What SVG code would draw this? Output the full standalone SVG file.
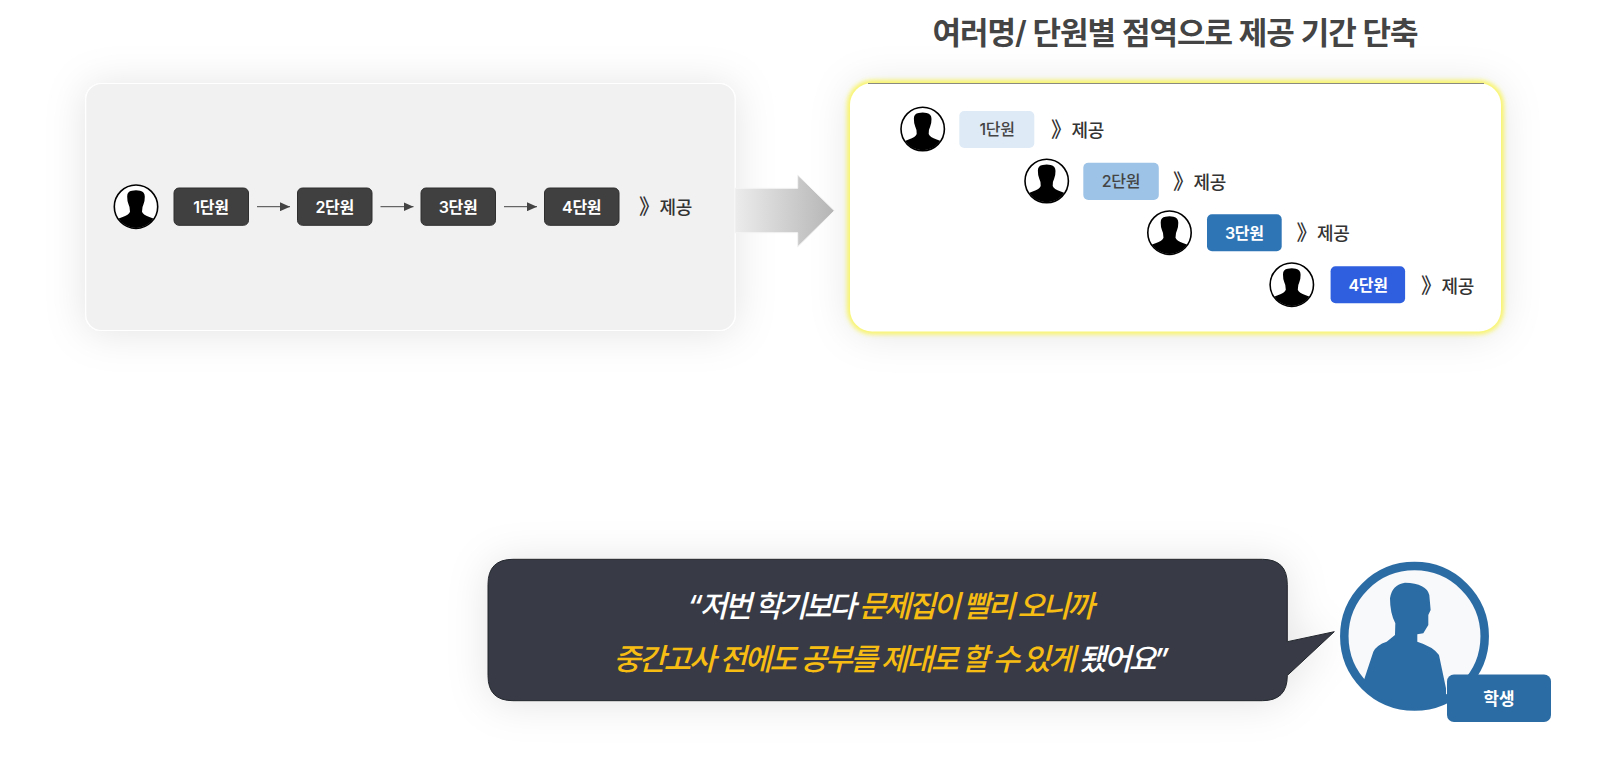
<svg xmlns="http://www.w3.org/2000/svg" width="1600" height="769" viewBox="0 0 1600 769">
<style>
text{font-family:"Inter","Noto Sans CJK KR",sans-serif}
.l{font-size:16px;font-weight:600;text-anchor:middle;letter-spacing:-.3px}
.m{font-weight:500;fill:#444}
.w{fill:#fff}
.p{font-size:18px;font-weight:500;fill:#333;letter-spacing:-.3px}
.b{font-size:21px}
.c{stroke:#444;stroke-width:1;fill:none;marker-end:url(#a)}
.q{font-size:30px;font-weight:500;font-style:italic;letter-spacing:-2.5px;text-anchor:middle}
.y{fill:#f7bd13}
.d{fill:#404040;stroke:#2f2f2f}
</style>
<defs>
<filter id="s" x="-20%" y="-50%" width="140%" height="200%"><feDropShadow dx="0" dy="2" stdDeviation="20" flood-color="#000" flood-opacity=".11"/></filter>
<filter id="g" x="-5%" y="-10%" width="110%" height="120%"><feGaussianBlur stdDeviation="2"/></filter>
<linearGradient id="ag"><stop offset="0" stop-color="#ececec"/><stop offset="1" stop-color="#b5b5b5"/></linearGradient>
<marker id="a" markerWidth="10" markerHeight="9" refX="10" refY="4.500" orient="auto" markerUnits="userSpaceOnUse"><path d="M0 0L10 4.500L0 9Z" fill="#444"/></marker>
<clipPath id="pc"><circle r="21.200"/></clipPath>
<clipPath id="sc"><circle cx="523.500" cy="289" r="215"/></clipPath>
<g id="person">
<circle r="21.700" fill="#fff" stroke="#000" stroke-width="1.600"/>
<path clip-path="url(#pc)" d="M-8.800-10Q-9-15.500-4-16Q0-16.800 4-16Q8.800-15 8.800-10Q8.800-5 7.500-2.500Q6 0 6 5Q7 8 14 10.500L22 13.500V24H-22V13.500L-14 10.500Q-7 8-6 5Q-6 0-7.500-2.500Q-8.800-5-8.800-10Z" fill="#000"/>
</g>
</defs>

<g id="panel-before"><rect x="85.700" y="83.500" width="649.500" height="247" rx="16" fill="#f1f1f1" stroke="#fff" stroke-width="1.200" filter="url(#s)"/></g>
<g id="panel-after">
<rect x="850" y="83" width="651" height="248.500" rx="22" fill="#fff" filter="url(#s)"/>
<rect x="847" y="80" width="657" height="254.500" rx="25" fill="#f9f56c" filter="url(#g)"/>
<rect x="850" y="83" width="651" height="248.500" rx="22" fill="#fff"/>
<path d="M868 83.500H1484" stroke="#8a8a80" stroke-width="1"/>
</g>
<g id="title"><text x="1175" y="44" font-size="31" font-weight="600" fill="#444" text-anchor="middle" letter-spacing="-1">여러명/ 단원별 점역으로 제공 기간 단축</text></g>

<g id="connectors">
<path class="c" d="M257 206.700H290"/>
<path class="c" d="M380.500 206.700H413.500"/>
<path class="c" d="M504 206.700H537"/>
<path id="big-arrow" d="M735 188.300H797.700V175L834.300 210.700L797.700 246.700V232.700H735Z" fill="url(#ag)" stroke="#f4f4f4" stroke-width="1"/>
</g>

<g id="left-person"><use href="#person" x="136" y="206.700"/></g>
<g id="left-1"><rect class="d" x="174" y="188" width="74.500" height="37.300" rx="5"/><text class="l w" x="211" y="212.500">1단원</text></g>
<g id="left-2"><rect class="d" x="297.500" y="188" width="74.500" height="37.300" rx="5"/><text class="l w" x="334.700" y="212.500">2단원</text></g>
<g id="left-3"><rect class="d" x="421" y="188" width="74.500" height="37.300" rx="5"/><text class="l w" x="458" y="212.500">3단원</text></g>
<g id="left-4"><rect class="d" x="544.500" y="188" width="74.500" height="37.300" rx="5"/><text class="l w" x="581.700" y="212.500">4단원</text></g>
<g id="left-provide"><text class="p" x="639" y="214"><tspan class="b">》</tspan> <tspan dx="-4.700">제공</tspan></text></g>

<g id="row-1"><use href="#person" x="922.700" y="129"/><rect x="959.300" y="111" width="75" height="37" rx="5" fill="#deeaf6"/><text class="l m" x="997" y="135">1단원</text><text class="p" x="1051" y="136.500"><tspan class="b">》</tspan> <tspan dx="-4.700">제공</tspan></text></g>
<g id="row-2"><use href="#person" x="1046.700" y="181"/><rect x="1083.300" y="162.700" width="75.500" height="37.300" rx="5" fill="#9dc3e6"/><text class="l m" x="1121" y="187">2단원</text><text class="p" x="1173" y="188.500"><tspan class="b">》</tspan> <tspan dx="-4.700">제공</tspan></text></g>
<g id="row-3"><use href="#person" x="1169.500" y="232.700"/><rect x="1207" y="214.300" width="74.700" height="37" rx="5" fill="#2e75b6"/><text class="l w" x="1244.300" y="238.500">3단원</text><text class="p" x="1296.500" y="240"><tspan class="b">》</tspan> <tspan dx="-4.700">제공</tspan></text></g>
<g id="row-4"><use href="#person" x="1291.800" y="284.700"/><rect x="1330.600" y="266.300" width="74.500" height="37" rx="5" fill="#2f5fde"/><text class="l w" x="1368" y="290.500">4단원</text><text class="p" x="1421" y="292.500"><tspan class="b">》</tspan> <tspan dx="-4.700">제공</tspan></text></g>

<g id="speech">
<path d="M513 559.300H1262.300Q1287.300 559.300 1287.300 584.300V641.700L1334.300 631.700L1287.300 675.500V675.700Q1287.300 700.700 1262.300 700.700H513Q488 700.700 488 675.700V584.300Q488 559.300 513 559.300Z" fill="#373b44" stroke="#23262d" stroke-width="1" filter="url(#s)"/>
<text class="q w" x="889.500" y="617" style="letter-spacing:-2.85px">“저번 학기보다 <tspan class="y">문제집이 빨리 오니까</tspan></text>
<text class="q w" x="890" y="670"><tspan class="y">중간고사 전에도 공부를 제대로 할 수 있게</tspan> 됐어요”</text>
</g>

<g id="student">
<circle cx="1414.500" cy="636.300" r="70.200" fill="#f8f9fb" stroke="#2c6ca4" stroke-width="8.500"/>
<path transform="translate(1240,540) scale(.3333)" clip-path="url(#sc)" d="M372 420L400 335Q410 315 440 305L465 285L466 250Q450 220 450 175Q455 135 495 128Q560 130 568 165L572 210L565 225L565 255L550 280L532 283V305Q580 320 597 345L618 445V560H372Z" fill="#2c6ca4"/>
<rect x="1447" y="674.500" width="104" height="47.500" rx="7" fill="#2c6ca4"/>
<text x="1499" y="704.500" font-size="17" font-weight="600" fill="#fff" text-anchor="middle">학생</text>
</g>
</svg>
